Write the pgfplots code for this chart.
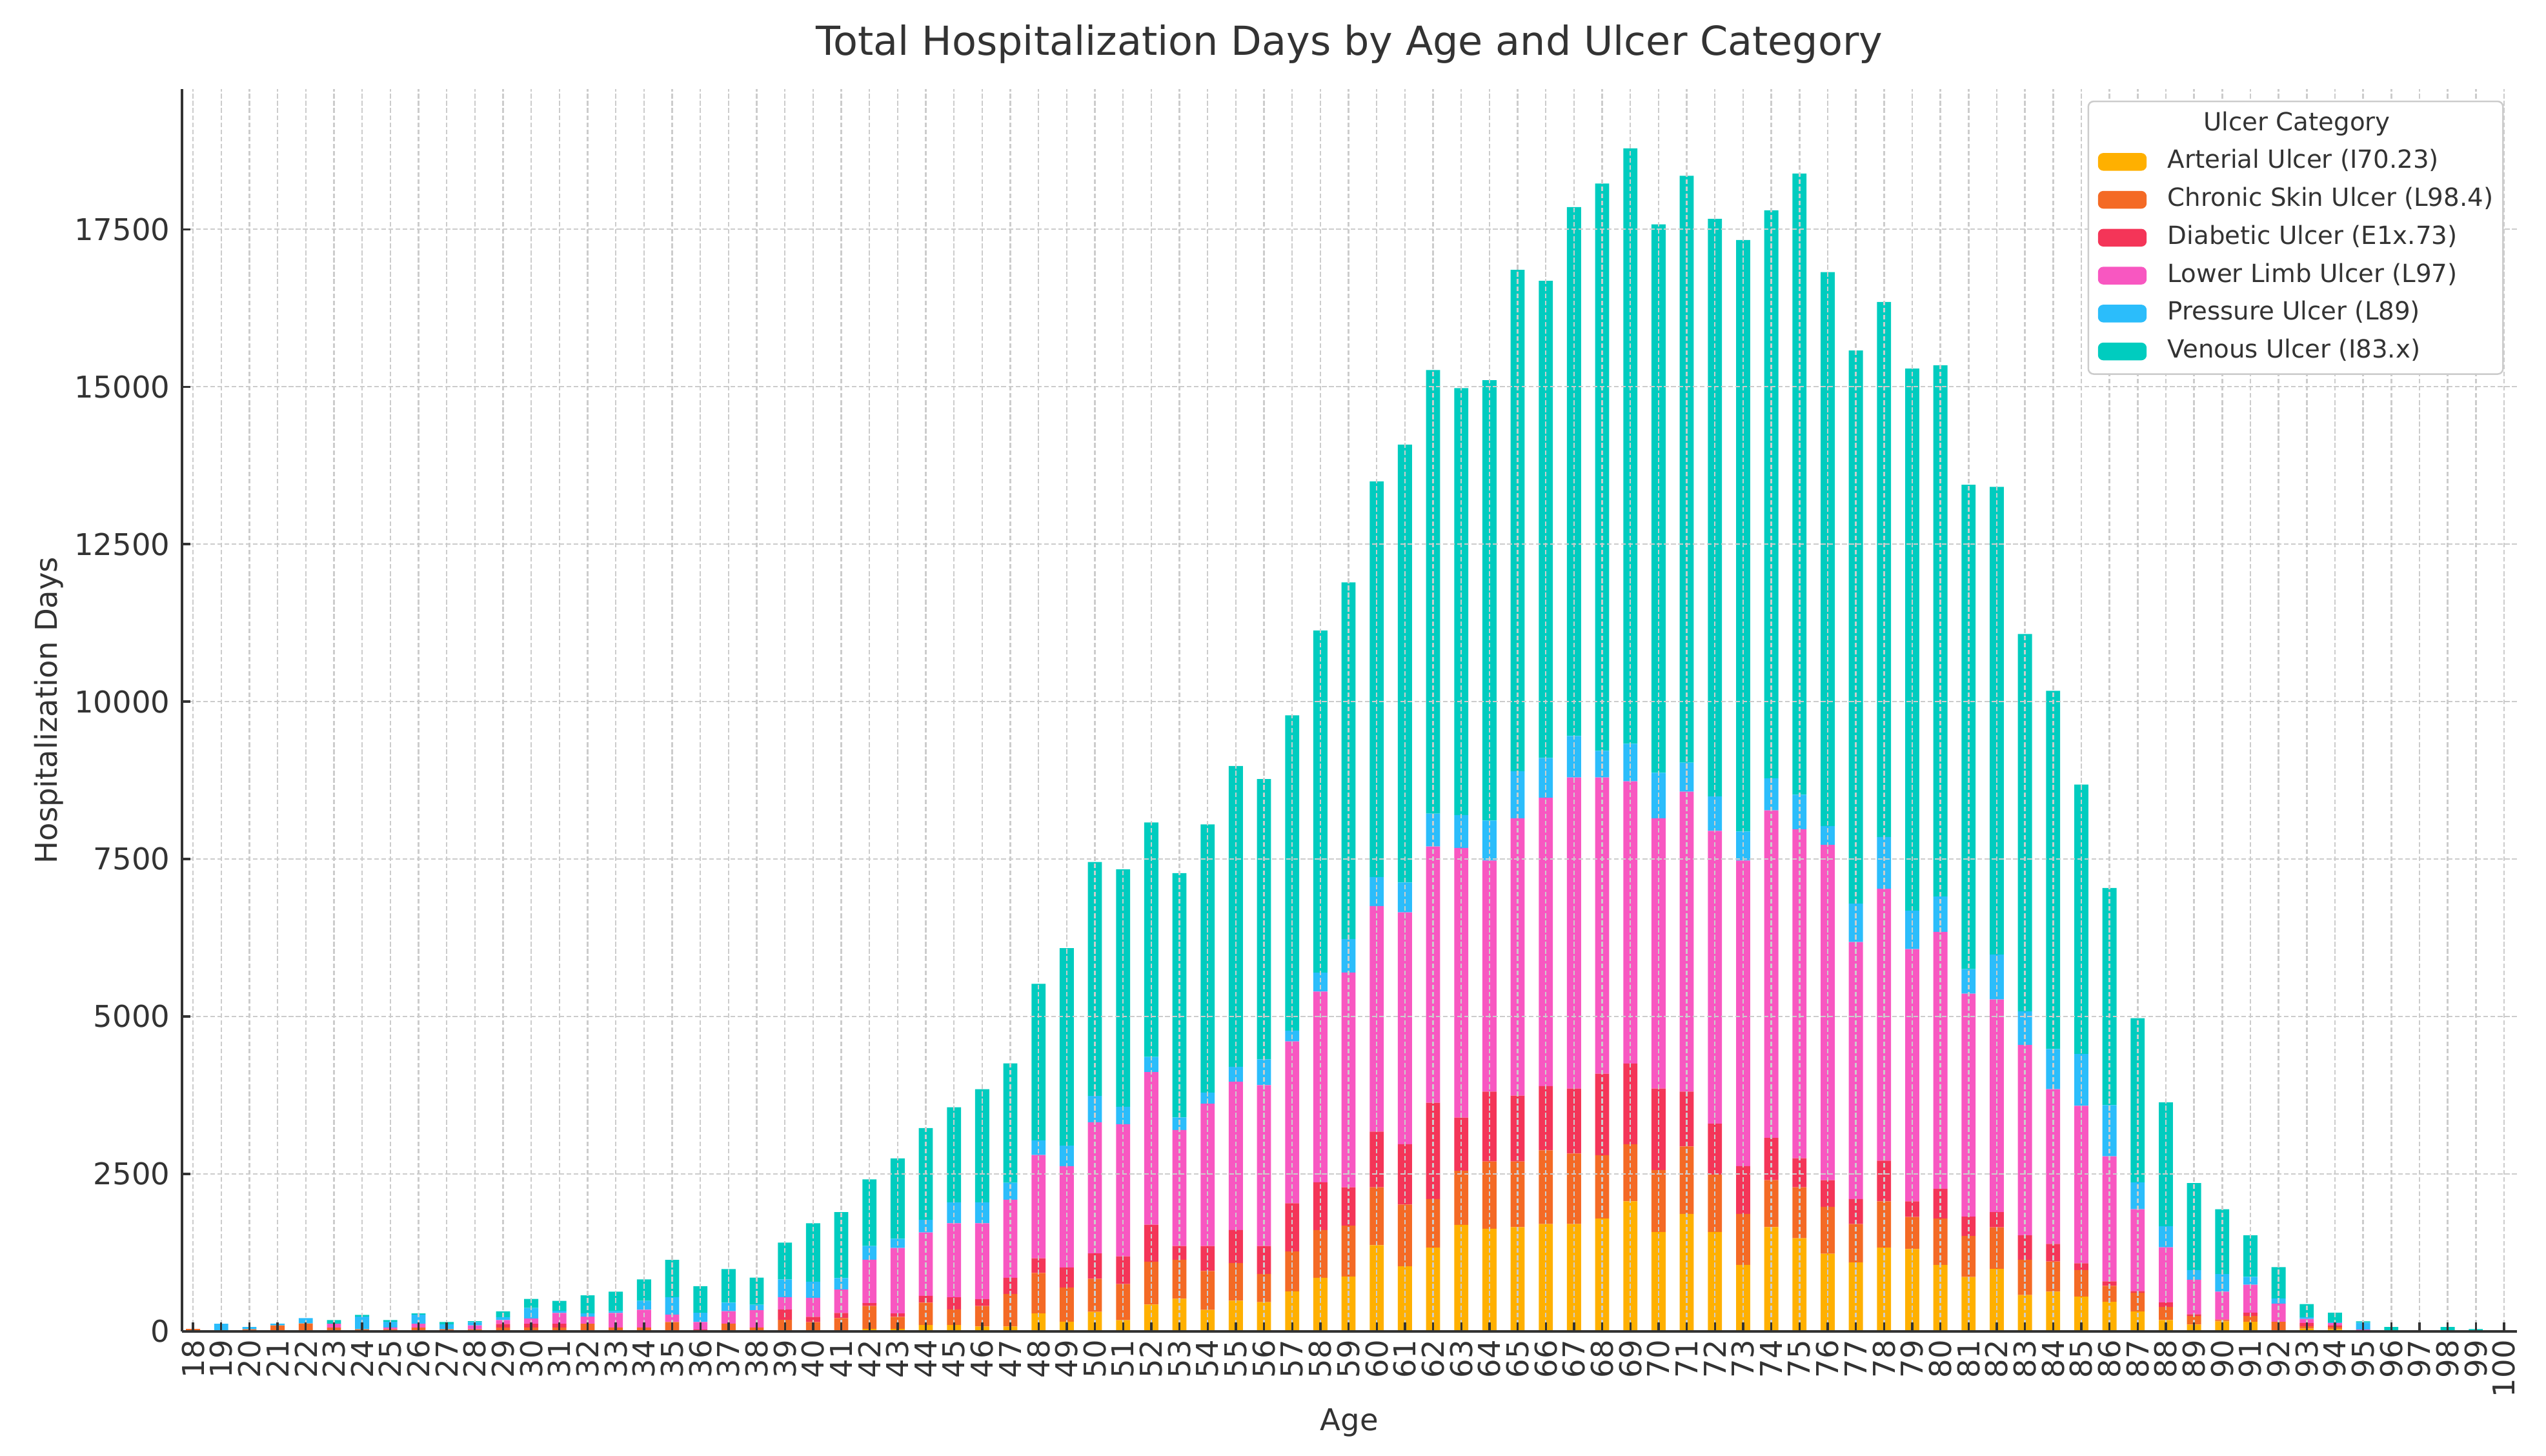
\documentclass[border=0pt]{standalone}
\usepackage{pgfplots}
\usepackage{pgfplotstable}
\pgfplotsset{compat=1.18}
\usepackage{fontspec}
\setmainfont{DejaVu Sans}

\definecolor{cA}{HTML}{FFB000}
\definecolor{cC}{HTML}{F46A25}
\definecolor{cD}{HTML}{F43558}
\definecolor{cL}{HTML}{F857C1}
\definecolor{cP}{HTML}{2BBDFB}
\definecolor{cV}{HTML}{00CCBF}
\definecolor{txt}{HTML}{333333}

% age, arterial, chronic skin, diabetic, lower limb, pressure, venous
\pgfplotstableread{
age A C D L P V
18 0 40 0 0 0 0
19 0 0 5 0 115 0
20 0 35 0 0 35 0
21 0 95 0 0 28 0
22 0 125 0 0 85 0
23 0 60 0 60 0 60
24 0 35 0 0 200 28
25 0 35 0 28 90 28
26 0 60 0 60 145 20
27 0 34 0 0 80 35
28 0 34 0 62 50 15
29 0 60 58 62 45 93
30 0 62 58 86 165 144
31 0 62 58 172 34 158
32 0 120 0 114 52 285
33 0 62 0 230 28 310
34 0 62 0 282 141 340
35 0 148 0 120 275 592
36 0 20 10 120 144 423
37 0 124 0 196 137 533
38 0 62 0 275 86 430
39 0 182 165 196 282 585
40 0 147 85 302 256 928
41 0 210 83 372 182 1046
42 39 363 47 689 217 1060
43 39 193 54 1038 147 1277
44 101 356 108 1006 201 1456
45 101 247 194 1176 333 1509
46 77 325 109 1207 333 1796
47 77 519 255 1239 271 1896
48 286 643 232 1641 232 2485
49 155 542 317 1610 325 3135
50 310 526 402 2082 418 3716
51 178 573 441 2098 278 3770
52 426 681 588 2423 240 3723
53 519 619 217 1842 201 3878
54 341 619 395 2260 178 4257
55 488 596 526 2353 240 4775
56 464 449 442 2554 410 4450
57 635 634 767 2569 171 5007
58 851 759 758 3027 302 5433
59 871 808 610 3409 534 5661
60 1368 921 883 3583 460 6282
61 1033 982 958 3682 473 6954
62 1331 771 1530 4068 523 7041
63 1692 858 846 4279 523 6780
64 1630 1069 1108 3669 635 6991
65 1655 1044 1045 4404 747 7961
66 1704 1170 1020 4578 634 7576
67 1704 1120 1032 4939 659 8397
68 1791 1008 1294 4702 423 9007
69 2065 908 1281 4479 597 9454
70 1580 983 1293 4292 722 8708
71 1866 1070 871 4764 460 9318
72 1580 908 809 4652 548 9168
73 1057 809 759 4851 461 9392
74 1655 746 672 5200 510 9019
75 1480 809 460 5225 547 9865
76 1232 746 423 5324 299 8795
77 1095 609 398 4081 609 8783
78 1331 734 647 4317 821 8496
79 1306 510 249 4006 609 8609
80 1057 734 473 4080 560 8435
81 865 650 307 3540 390 7690
82 993 659 243 3376 713 7427
83 578 559 388 3024 532 5993
84 632 478 280 2455 640 5686
85 551 424 108 2500 821 4278
86 469 253 72 1986 812 3448
87 316 298 27 1299 425 2608
88 181 207 72 876 334 1967
89 108 136 27 550 154 1381
90 160 20 10 440 280 1030
91 153 91 54 442 126 659
92 10 143 0 289 81 497
93 45 36 54 64 27 207
94 36 36 27 36 10 153
95 0 0 0 30 110 20
96 0 0 0 0 0 70
97 0 0 0 0 0 15
98 0 0 0 0 0 70
99 0 0 0 0 0 36
100 0 0 0 0 0 5
}\ulcers

\pgfplotsset{
  lb/.style={fill=#1, draw=none,
    legend image code/.code={\fill[#1] (0pt,-3.3pt) rectangle (18.1pt,3.3pt);}},
}

\begin{document}
\begin{tikzpicture}
\begin{axis}[
    name=ax,
    scale only axis,
    width=868.3pt, height=461.9pt,
    ybar stacked, bar width=0.5,
    xmin=17.6, xmax=100.45,
    ymin=0, ymax=19723,
    axis x line*=bottom, axis y line*=left,
    axis line style={line width=0.9pt, color=black!80},
    axis on top,
    tick align=inside,
    major tick length=3.26pt,
    tick style={line width=0.8pt, color=black!80},
    xtick={18,...,100},
    ytick={0,2500,...,17500},
    scaled y ticks=false,
    yticklabel={\pgfmathprintnumber[fixed,precision=0,1000 sep={}]{\tick}},
    grid=major,
    major grid style={dash pattern=on 1.75pt off 0.9pt, line width=0.6pt, color=gray!40},
    /pgf/number format/assume math mode=true,
    /pgf/number format/1000 sep={},
    ticklabel style={font=\fontsize{11.16}{13}\selectfont, text=txt},
    xticklabel style={rotate=90, anchor=east, inner xsep=3pt, inner ysep=0pt},
    yticklabel style={inner sep=0pt, xshift=-4.2pt},
    title={Total Hospitalization Days by Age and Ulcer Category},
    title style={at={(0.5,1)}, anchor=base, yshift=6.6pt,
      font=\fontsize{14.88}{18}\selectfont, text=txt},
    xlabel={Age},
    xlabel style={at={(axis description cs:0.5,0)}, anchor=base, yshift=-36.8pt,
      font=\fontsize{11.16}{13}\selectfont, text=txt},
    ylabel={Hospitalization Days},
    ylabel style={at={(axis description cs:-0.057,0.5)}, anchor=center,
      font=\fontsize{11.16}{13}\selectfont, text=txt},
    legend cell align=left,
    legend style={
      at={(rel axis cs:1,1)}, anchor=north east, xshift=-4.8pt, yshift=-4.2pt,
      draw=black!20, line width=0.6pt, rounded corners=2pt, fill=white,
      font=\fontsize{9.3}{11}\selectfont, text=txt,
      nodes={inner sep=0pt, text height=6.9pt, text depth=2.1pt},
      row sep=5.1pt, column sep=7.8pt, inner xsep=3.6pt, inner ysep=3.9pt,
    },
  ]
  \addlegendimage{empty legend}
  \addlegendentry{\hspace*{13.3pt}Ulcer Category}
  \addplot[lb=cA] table[x=age, y=A] {\ulcers};
  \addlegendentry{Arterial Ulcer (I70.23)}
  \addplot[lb=cC] table[x=age, y=C] {\ulcers};
  \addlegendentry{Chronic Skin Ulcer (L98.4)}
  \addplot[lb=cD] table[x=age, y=D] {\ulcers};
  \addlegendentry{Diabetic Ulcer (E1x.73)}
  \addplot[lb=cL] table[x=age, y=L] {\ulcers};
  \addlegendentry{Lower Limb Ulcer (L97)}
  \addplot[lb=cP] table[x=age, y=P] {\ulcers};
  \addlegendentry{Pressure Ulcer (L89)}
  \addplot[lb=cV] table[x=age, y=V] {\ulcers};
  \addlegendentry{Venous Ulcer (I83.x)}
\end{axis}
\pgfresetboundingbox
\path[use as bounding box] ([xshift=-67.6pt,yshift=-46.3pt]ax.south west)
  rectangle ([xshift=10.9pt,yshift=33.2pt]ax.north east);
\end{tikzpicture}
\end{document}
